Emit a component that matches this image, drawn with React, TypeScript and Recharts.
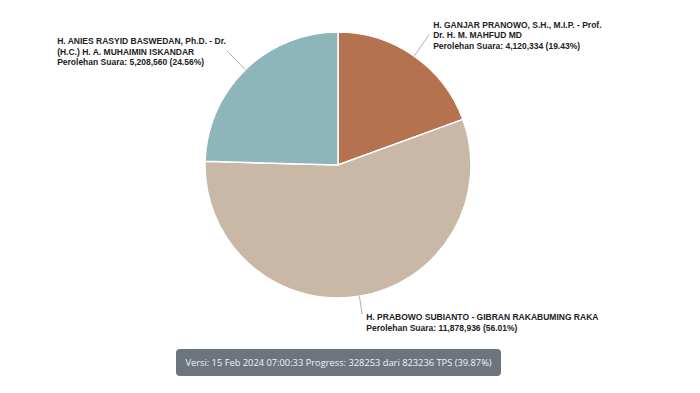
import { PieChart, Pie, Cell } from 'recharts';

const CANDIDATES = [
  ['H. GANJAR PRANOWO, S.H., M.I.P. - Prof.', 'Dr. H. M. MAHFUD MD'],
  ['H. PRABOWO SUBIANTO - GIBRAN RAKABUMING RAKA'],
  ['H. ANIES RASYID BASWEDAN, Ph.D. - Dr.', '(H.C.) H. A. MUHAIMIN ISKANDAR'],
];
const VOTES = [4120334, 11878936, 5208560];
const PERCENTS = ['19.43%', '56.01%', '24.56%'];
const COLORS = ['#b5724f', '#c8b8a5', '#8db6bb'];
const VERSION_TEXT = 'Versi: 15 Feb 2024 07:00:33 Progress: 328253 dari 823236 TPS (39.87%)';

const data = VOTES.map((v, i) => ({
  name: CANDIDATES[i].join(' '),
  lines: CANDIDATES[i],
  value: v,
  pct: PERCENTS[i],
}));

const fmt = (n: number) => n.toLocaleString('en-US');
const RAD = Math.PI / 180;

function renderLabel(props: any) {
  const { cx, cy, outerRadius, midAngle, payload, index } = props;
  const cos = Math.cos(-midAngle * RAD);
  const sin = Math.sin(-midAngle * RAD);
  const sx = cx + outerRadius * cos;
  const sy = cy + outerRadius * sin;
  const len = index === 1 ? 18 : 26;
  const ex = cx + (outerRadius + len) * cos;
  const ey = cy + (outerRadius + len) * sin;
  const left = cos < 0;
  const lines: string[] = [...payload.lines, `Perolehan Suara: ${fmt(payload.value)} (${payload.pct})`];
  const tx = left ? ex - 170 : ex + 4;
  const startY = index === 1 ? ey + 6 : ey - 7;
  return (
    <g>
      <path d={`M${sx},${sy}L${ex},${ey}`} stroke="#b0b0b0" strokeWidth={1} fill="none" />
      <text x={tx} y={startY} fill="#222" fontSize={8.5} fontWeight="bold" fontFamily="Liberation Sans, Arial, sans-serif">
        {lines.map((l, i) => (
          <tspan key={i} x={tx} dy={i === 0 ? 0 : 10.7}>{l}</tspan>
        ))}
      </text>
    </g>
  );
}

export default function App() {
  return (
    <div style={{ position: 'absolute', left: 0, top: 0, width: 700, height: 393, background: '#fff' }}>
      <PieChart width={700} height={393} margin={{ top: 0, right: 0, bottom: 0, left: 0 }}>
        <Pie
          data={data}
          dataKey="value"
          nameKey="name"
          cx={338}
          cy={165}
          outerRadius={133}
          startAngle={90}
          endAngle={-270}
          stroke="#ffffff"
          strokeWidth={1.5}
          label={renderLabel}
          labelLine={false}
          isAnimationActive={false}
        >
          {data.map((d, i) => (
            <Cell key={d.name} fill={COLORS[i]} />
          ))}
        </Pie>
      </PieChart>
      <div
        style={{
          position: 'absolute',
          left: 176,
          top: 349,
          width: 325,
          height: 27,
          background: '#6c757d',
          borderRadius: 4,
          color: '#f2f2f2',
          fontFamily: 'Open Sans, sans-serif',
          fontSize: 9.3,
          lineHeight: '27px',
          textAlign: 'center',
          whiteSpace: 'nowrap',
        }}
      >
        {VERSION_TEXT}
      </div>
    </div>
  );
}
